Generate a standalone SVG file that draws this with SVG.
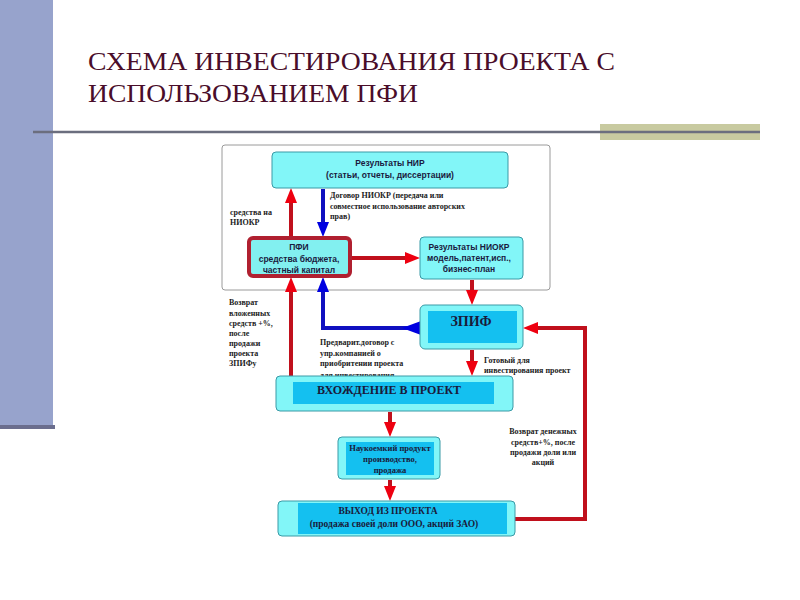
<svg xmlns="http://www.w3.org/2000/svg" width="800" height="600" viewBox="0 0 800 600">
<defs>
<style>
.title{font-family:"Liberation Serif","Times New Roman",serif;font-size:26px;fill:#4a0d2a}
.sans{font-family:"Liberation Sans",Arial,sans-serif;font-weight:bold;font-size:8.5px;fill:#1a1a40;text-anchor:middle}
.serif{font-family:"Liberation Serif","Times New Roman",serif;font-weight:bold;fill:#1a1a3a;text-anchor:middle}
.lbl{font-family:"Liberation Serif","Times New Roman",serif;font-weight:bold;font-size:8px;fill:#222}
.box{fill:#82f6f8;stroke:#3a9aa6;stroke-width:1}
.inner{fill:#14c0f0}
.red{fill:none;stroke:#c0101c;stroke-width:4;marker-end:url(#rh)}
.blue{fill:none;stroke:#1010c0;stroke-width:4;marker-end:url(#bh)}
</style>
<marker id="rh" viewBox="0 0 15 12" refX="7" refY="6" markerWidth="15" markerHeight="12" markerUnits="userSpaceOnUse" orient="auto"><path d="M0,0 L15,6 L0,12 z" fill="#ee0010"/></marker>
<marker id="bh" viewBox="0 0 15 12" refX="7" refY="6" markerWidth="15" markerHeight="12" markerUnits="userSpaceOnUse" orient="auto"><path d="M0,0 L15,6 L0,12 z" fill="#0000e0"/></marker>
</defs>
<rect width="800" height="600" fill="#ffffff"/>
<g id="decor">
<rect x="0" y="0" width="53" height="425" fill="#97a3cc"/>
<rect x="0" y="425" width="55" height="4" fill="#6b6e8e"/>
<rect x="600" y="124" width="160" height="16" fill="#c8caa0"/>
<line x1="33" y1="132" x2="760" y2="132" stroke="#6b6e7e" stroke-width="2.5"/>
</g>
<g id="title">
<text class="title" x="88" y="70" textLength="527" lengthAdjust="spacingAndGlyphs">СХЕМА ИНВЕСТИРОВАНИЯ ПРОЕКТА С</text>
<text class="title" x="88" y="102" textLength="330" lengthAdjust="spacingAndGlyphs">ИСПОЛЬЗОВАНИЕМ ПФИ</text>
</g>
<rect id="frame" x="222" y="145" width="328" height="145" rx="3" fill="#ffffff" stroke="#9a9a9a" stroke-width="1"/>
<g id="labels">
<text class="lbl" x="330" y="198">Договор НИОКР (передача или</text>
<text class="lbl" x="330" y="209">совместное использование авторских</text>
<text class="lbl" x="330" y="219">прав)</text>
<text class="lbl" x="230" y="215">средства на</text>
<text class="lbl" x="230" y="225">НИОКР</text>
<text class="lbl" x="229" y="305">Возврат</text>
<text class="lbl" x="229" y="315.5">вложенных</text>
<text class="lbl" x="229" y="326">средств +%,</text>
<text class="lbl" x="229" y="336">после</text>
<text class="lbl" x="229" y="346">продажи</text>
<text class="lbl" x="229" y="356">проекта</text>
<text class="lbl" x="229" y="366">ЗПИФу</text>
<text class="lbl" x="320" y="345">Предварит.договор с</text>
<text class="lbl" x="320" y="355.5">упр.компанией о</text>
<text class="lbl" x="320" y="366">приобритении проекта</text>
<text class="lbl" x="320" y="378">для инвестирования</text>
<text class="lbl" x="484" y="363">Готовый для</text>
<text class="lbl" x="484" y="373">инвестирования проект</text>
<text class="lbl" x="543" y="434" text-anchor="middle">Возврат денежных</text>
<text class="lbl" x="543" y="444.5" text-anchor="middle">средств+%, после</text>
<text class="lbl" x="543" y="455" text-anchor="middle">продажи доли или</text>
<text class="lbl" x="543" y="465" text-anchor="middle">акций</text>
</g>
<g id="connectors">
<path class="red" d="M291,236 V196"/>
<path class="blue" d="M323,189 V229"/>
<path class="red" d="M352,258 H412"/>
<path class="red" d="M472,280 V297"/>
<path class="blue" d="M416,328 H323 V285"/>
<polygon points="421,321 421,335 402,328" fill="#0000e0"/>
<path class="red" d="M291,376 V285"/>
<path class="red" d="M472,350 V368"/>
<path class="red" d="M515,519 H585 V328 H531"/>
<path class="red" d="M390,412 V429"/>
<path class="red" d="M390,480 V493"/>
</g>
<g id="node-nir">
<rect class="box" x="272" y="152" width="236" height="36" rx="4"/>
<text class="sans" x="390" y="166">Результаты НИР</text>
<text class="sans" x="390" y="178">(статьи, отчеты, диссертации)</text>
</g>
<g id="node-pfi">
<rect x="249" y="238" width="101" height="38" rx="4" fill="#82f0f0" stroke="#b02030" stroke-width="4"/>
<text class="sans" x="299" y="250">ПФИ</text>
<text class="sans" x="299" y="262">средства бюджета,</text>
<text class="sans" x="299" y="273">частный капитал</text>
</g>
<g id="node-niokr">
<rect class="box" x="420" y="237" width="103" height="42" rx="4"/>
<text class="sans" x="469" y="250">Результаты НИОКР</text>
<text class="sans" x="469" y="261">модель,патент,исп.,</text>
<text class="sans" x="469" y="272">бизнес-план</text>
</g>
<g id="node-zpif">
<rect class="box" x="420" y="305" width="103" height="44" rx="5"/>
<rect class="inner" x="428" y="311" width="89" height="32"/>
<text class="serif" x="471" y="326" font-size="14">ЗПИФ</text>
</g>
<g id="node-entry">
<rect class="box" x="276" y="376" width="237" height="35" rx="4"/>
<rect class="inner" x="293" y="382" width="201" height="22"/>
<text class="serif" x="389" y="394" font-size="12">ВХОЖДЕНИЕ В ПРОЕКТ</text>
</g>
<g id="node-product">
<rect class="box" x="338" y="437" width="102" height="42" rx="4"/>
<rect class="inner" x="346" y="442" width="88" height="33"/>
<text class="serif" x="390" y="451" font-size="8.5">Наукоемкий продукт</text>
<text class="serif" x="390" y="462" font-size="8.5">производство,</text>
<text class="serif" x="390" y="473" font-size="8.5">продажа</text>
</g>
<g id="node-exit">
<rect class="box" x="278" y="501" width="237" height="35" rx="4"/>
<rect class="inner" x="298" y="503" width="209" height="31"/>
<text class="serif" x="388" y="514" font-size="9.5">ВЫХОД ИЗ ПРОЕКТА</text>
<text class="serif" x="394" y="527" font-size="9.5">(продажа своей доли ООО, акций ЗАО)</text>
</g>
</svg>
